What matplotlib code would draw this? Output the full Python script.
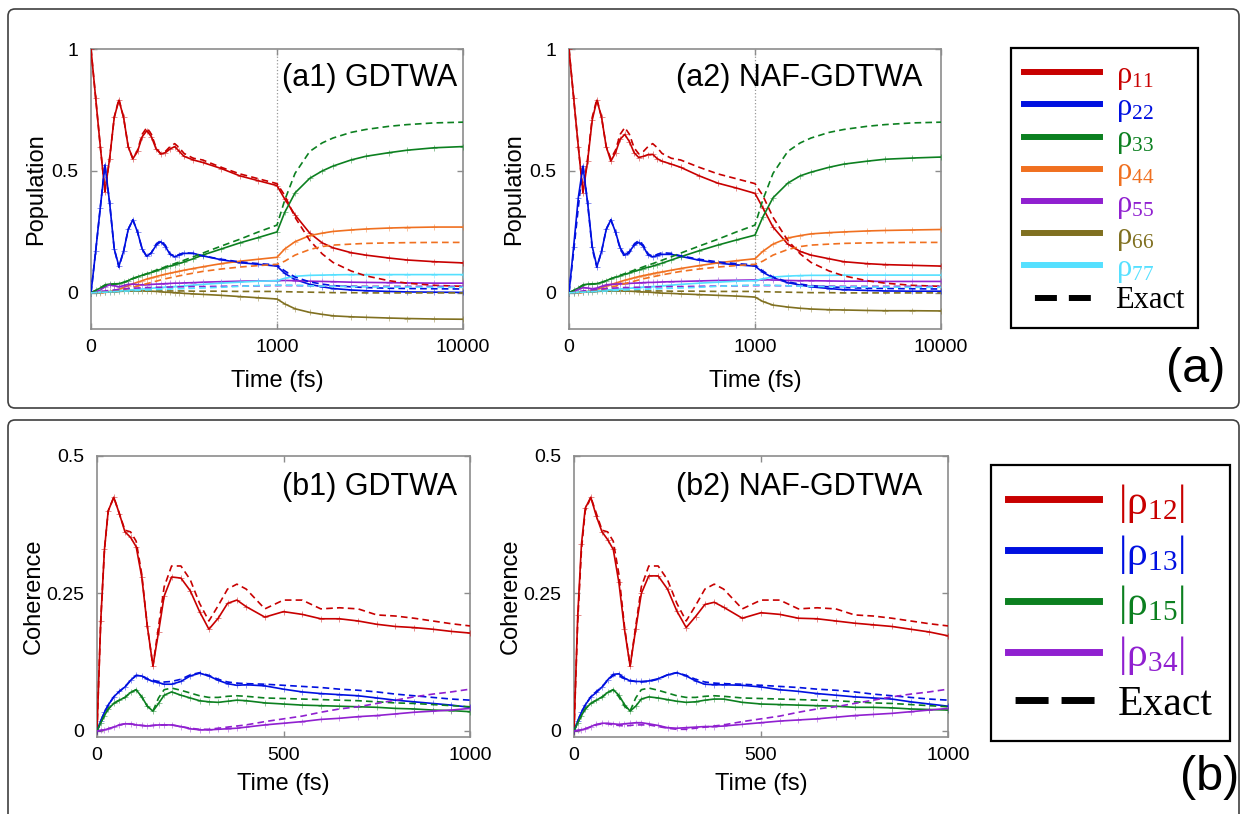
import numpy as np
import matplotlib
matplotlib.use("Agg")
import matplotlib.pyplot as plt
from matplotlib.lines import Line2D
from matplotlib.patches import FancyBboxPatch
from matplotlib.transforms import IdentityTransform

plt.rcParams['font.family'] = ['Liberation Sans', 'DejaVu Sans']

# ---------------------------------------------------------------- data
# populations: time grid (fs), linear up to 1000 fs, log-spaced afterwards
T_POP = [0, 25, 50, 75, 100, 125, 150, 175, 200, 225, 250, 275, 300, 325, 350,
         375, 400, 425, 450, 475, 500, 550, 600, 700, 800, 900, 1000, 1100, 1250,
         1500, 1750, 2000, 2500, 3000, 4000, 5000, 7000, 10000]

POP_GDTWA = {
    '11': [1.0, 0.80, 0.60, 0.415, 0.55, 0.72, 0.79, 0.72, 0.60, 0.55, 0.58, 0.64, 0.665, 0.64, 0.59, 0.57, 0.575, 0.59, 0.60, 0.58, 0.56, 0.545, 0.535, 0.51, 0.48, 0.46, 0.44, 0.385, 0.32, 0.245, 0.205, 0.185, 0.165, 0.155, 0.143, 0.135, 0.128, 0.123],
    '22': [0.0, 0.17, 0.35, 0.525, 0.37, 0.18, 0.11, 0.17, 0.26, 0.30, 0.25, 0.18, 0.15, 0.165, 0.195, 0.21, 0.19, 0.158, 0.148, 0.155, 0.162, 0.162, 0.152, 0.136, 0.124, 0.117, 0.11, 0.08, 0.055, 0.035, 0.025, 0.018, 0.012, 0.009, 0.006, 0.004, 0.003, 0.002],
    '33': [0.0, 0.01, 0.02, 0.033, 0.036, 0.037, 0.038, 0.043, 0.05, 0.06, 0.066, 0.072, 0.078, 0.084, 0.09, 0.097, 0.104, 0.11, 0.115, 0.121, 0.127, 0.14, 0.155, 0.18, 0.205, 0.227, 0.25, 0.33, 0.41, 0.47, 0.5, 0.52, 0.545, 0.56, 0.575, 0.585, 0.595, 0.60],
    '44': [0.0, 0.0, 0.001, 0.003, 0.006, 0.01, 0.015, 0.022, 0.03, 0.037, 0.044, 0.05, 0.057, 0.062, 0.067, 0.072, 0.077, 0.081, 0.085, 0.089, 0.093, 0.1, 0.107, 0.12, 0.13, 0.138, 0.146, 0.18, 0.21, 0.235, 0.245, 0.252, 0.258, 0.262, 0.266, 0.268, 0.27, 0.27],
    '55': [0.0, 0.004, 0.012, 0.025, 0.033, 0.03, 0.025, 0.03, 0.035, 0.036, 0.034, 0.033, 0.034, 0.035, 0.036, 0.037, 0.038, 0.039, 0.04, 0.04, 0.041, 0.042, 0.044, 0.046, 0.048, 0.049, 0.05, 0.051, 0.05, 0.048, 0.047, 0.046, 0.044, 0.043, 0.042, 0.041, 0.04, 0.04],
    '66': [0.0, 0.001, 0.002, 0.003, 0.004, 0.005, 0.006, 0.007, 0.008, 0.008, 0.008, 0.008, 0.008, 0.007, 0.006, 0.005, 0.003, 0.002, 0.001, 0.0, -0.002, -0.004, -0.006, -0.01, -0.015, -0.02, -0.025, -0.045, -0.065, -0.08, -0.088, -0.094, -0.098, -0.1, -0.103, -0.105, -0.107, -0.108],
    '77': [0.0, 0.001, 0.003, 0.004, 0.005, 0.007, 0.008, 0.01, 0.012, 0.013, 0.015, 0.016, 0.018, 0.019, 0.021, 0.022, 0.024, 0.025, 0.026, 0.027, 0.029, 0.032, 0.035, 0.04, 0.044, 0.048, 0.05, 0.06, 0.068, 0.072, 0.073, 0.074, 0.075, 0.075, 0.075, 0.075, 0.075, 0.075],
}

POP_NAF = {
    '11': [1.0, 0.80, 0.60, 0.41, 0.54, 0.71, 0.79, 0.72, 0.60, 0.54, 0.575, 0.63, 0.65, 0.62, 0.575, 0.555, 0.56, 0.567, 0.568, 0.55, 0.54, 0.528, 0.515, 0.48, 0.45, 0.43, 0.408, 0.35, 0.27, 0.2, 0.17, 0.155, 0.14, 0.128, 0.12, 0.116, 0.113, 0.11],
    '22': [0.0, 0.19, 0.39, 0.52, 0.37, 0.19, 0.108, 0.17, 0.26, 0.30, 0.25, 0.185, 0.155, 0.17, 0.195, 0.207, 0.19, 0.155, 0.148, 0.153, 0.158, 0.158, 0.15, 0.134, 0.122, 0.115, 0.11, 0.085, 0.062, 0.042, 0.032, 0.025, 0.018, 0.013, 0.01, 0.008, 0.007, 0.007],
    '33': [0.0, 0.01, 0.02, 0.033, 0.036, 0.037, 0.038, 0.043, 0.05, 0.058, 0.064, 0.07, 0.076, 0.082, 0.088, 0.094, 0.1, 0.105, 0.11, 0.116, 0.122, 0.135, 0.148, 0.173, 0.196, 0.217, 0.237, 0.31, 0.39, 0.45, 0.48, 0.495, 0.515, 0.528, 0.54, 0.548, 0.553, 0.557],
    '44': [0.0, 0.0, 0.001, 0.003, 0.006, 0.01, 0.015, 0.021, 0.028, 0.034, 0.04, 0.046, 0.052, 0.057, 0.062, 0.067, 0.071, 0.075, 0.079, 0.083, 0.086, 0.093, 0.1, 0.112, 0.123, 0.132, 0.14, 0.17, 0.2, 0.225, 0.235, 0.242, 0.247, 0.25, 0.254, 0.256, 0.258, 0.26],
    '55': [0.0, 0.005, 0.014, 0.022, 0.02, 0.017, 0.02, 0.027, 0.033, 0.035, 0.036, 0.037, 0.038, 0.039, 0.04, 0.041, 0.042, 0.043, 0.043, 0.044, 0.045, 0.046, 0.047, 0.049, 0.051, 0.052, 0.053, 0.054, 0.053, 0.051, 0.05, 0.05, 0.049, 0.048, 0.048, 0.047, 0.047, 0.047],
    '66': [0.0, 0.001, 0.002, 0.003, 0.004, 0.005, 0.006, 0.007, 0.008, 0.008, 0.008, 0.008, 0.008, 0.007, 0.006, 0.005, 0.004, 0.003, 0.002, 0.001, -0.001, -0.002, -0.004, -0.007, -0.01, -0.013, -0.017, -0.035, -0.05, -0.058, -0.063, -0.066, -0.069, -0.07, -0.072, -0.073, -0.073, -0.074],
    '77': [0.0, 0.001, 0.003, 0.004, 0.005, 0.007, 0.008, 0.01, 0.012, 0.013, 0.015, 0.016, 0.018, 0.019, 0.021, 0.022, 0.024, 0.025, 0.026, 0.027, 0.029, 0.032, 0.035, 0.04, 0.044, 0.048, 0.05, 0.058, 0.065, 0.069, 0.071, 0.072, 0.072, 0.073, 0.073, 0.073, 0.073, 0.073],
}

POP_EXACT = {
    '11': [1.0, 0.80, 0.60, 0.415, 0.55, 0.72, 0.795, 0.72, 0.60, 0.55, 0.585, 0.65, 0.678, 0.65, 0.595, 0.57, 0.58, 0.60, 0.612, 0.595, 0.572, 0.552, 0.545, 0.515, 0.488, 0.468, 0.448, 0.40, 0.31, 0.215, 0.16, 0.125, 0.09, 0.07, 0.05, 0.04, 0.031, 0.027],
    '22': [0.0, 0.17, 0.35, 0.525, 0.37, 0.18, 0.105, 0.17, 0.26, 0.30, 0.25, 0.18, 0.148, 0.165, 0.2, 0.215, 0.195, 0.16, 0.15, 0.158, 0.165, 0.162, 0.152, 0.138, 0.127, 0.12, 0.115, 0.09, 0.065, 0.045, 0.036, 0.03, 0.025, 0.022, 0.019, 0.018, 0.017, 0.016],
    '33': [0.0, 0.01, 0.02, 0.03, 0.034, 0.036, 0.038, 0.043, 0.05, 0.058, 0.065, 0.072, 0.079, 0.086, 0.093, 0.1, 0.107, 0.114, 0.12, 0.127, 0.134, 0.148, 0.163, 0.192, 0.22, 0.25, 0.278, 0.38, 0.49, 0.58, 0.615, 0.635, 0.658, 0.67, 0.683, 0.69, 0.697, 0.70],
    '44': [0.0, 0.0, 0.001, 0.002, 0.004, 0.007, 0.01, 0.014, 0.018, 0.023, 0.028, 0.033, 0.038, 0.043, 0.048, 0.053, 0.058, 0.062, 0.066, 0.07, 0.074, 0.081, 0.088, 0.098, 0.106, 0.112, 0.117, 0.13, 0.155, 0.178, 0.19, 0.196, 0.2, 0.203, 0.205, 0.206, 0.207, 0.207],
    '55': [0.0, 0.002, 0.005, 0.008, 0.01, 0.012, 0.014, 0.016, 0.018, 0.019, 0.02, 0.021, 0.022, 0.022, 0.023, 0.023, 0.024, 0.024, 0.025, 0.025, 0.025, 0.026, 0.026, 0.027, 0.028, 0.029, 0.03, 0.03, 0.03, 0.029, 0.029, 0.028, 0.028, 0.027, 0.027, 0.027, 0.027, 0.027],
    '66': [0.0, 0.001, 0.002, 0.003, 0.004, 0.005, 0.006, 0.007, 0.008, 0.008, 0.008, 0.008, 0.008, 0.008, 0.008, 0.008, 0.008, 0.008, 0.008, 0.008, 0.008, 0.007, 0.007, 0.007, 0.006, 0.006, 0.006, 0.005, 0.004, 0.003, 0.002, 0.001, 0.001, 0.0, 0.0, 0.0, 0.0, 0.0],
    '77': [0.0, 0.001, 0.002, 0.003, 0.004, 0.005, 0.006, 0.007, 0.008, 0.009, 0.01, 0.011, 0.012, 0.013, 0.014, 0.015, 0.015, 0.016, 0.017, 0.017, 0.018, 0.019, 0.02, 0.023, 0.027, 0.03, 0.032, 0.032, 0.031, 0.029, 0.028, 0.027, 0.026, 0.025, 0.024, 0.024, 0.023, 0.023],
}

# coherences: time grid (fs)
T_COH = [0, 10, 20, 30, 45, 60, 75, 90, 105, 120, 135, 150, 165, 180, 200, 225,
         250, 275, 300, 325, 350, 375, 400, 450, 500, 550, 600, 650, 700, 750,
         800, 850, 900, 950, 1000]

COH_GDTWA = {
    '12': [0.0, 0.20, 0.33, 0.40, 0.425, 0.395, 0.362, 0.352, 0.335, 0.28, 0.19, 0.118, 0.18, 0.245, 0.28, 0.278, 0.255, 0.217, 0.185, 0.205, 0.232, 0.238, 0.226, 0.207, 0.217, 0.212, 0.204, 0.204, 0.2, 0.194, 0.19, 0.188, 0.185, 0.181, 0.178],
    '13': [0.0, 0.018, 0.034, 0.047, 0.062, 0.072, 0.08, 0.092, 0.101, 0.1, 0.094, 0.09, 0.088, 0.085, 0.085, 0.09, 0.1, 0.105, 0.1, 0.092, 0.086, 0.083, 0.084, 0.082, 0.076, 0.071, 0.068, 0.066, 0.064, 0.06, 0.056, 0.053, 0.05, 0.047, 0.043],
    '15': [0.0, 0.015, 0.028, 0.04, 0.05, 0.056, 0.061, 0.07, 0.075, 0.062, 0.045, 0.036, 0.05, 0.065, 0.071, 0.065, 0.06, 0.055, 0.053, 0.052, 0.054, 0.056, 0.055, 0.051, 0.049, 0.047, 0.046, 0.045, 0.044, 0.043, 0.041, 0.04, 0.038, 0.037, 0.035],
    '34': [0.0, 0.001, 0.002, 0.004, 0.007, 0.011, 0.013, 0.013, 0.011, 0.01, 0.009, 0.01, 0.011, 0.011, 0.011, 0.008, 0.004, 0.002, 0.002, 0.003, 0.004, 0.005, 0.007, 0.011, 0.014, 0.017, 0.021, 0.023, 0.026, 0.028, 0.031, 0.034, 0.036, 0.038, 0.041],
}

COH_NAF = {
    '12': [0.0, 0.21, 0.34, 0.405, 0.425, 0.39, 0.362, 0.348, 0.33, 0.27, 0.185, 0.118, 0.185, 0.25, 0.282, 0.282, 0.258, 0.218, 0.188, 0.208, 0.23, 0.234, 0.225, 0.205, 0.215, 0.212, 0.205, 0.204, 0.2, 0.196, 0.193, 0.19, 0.185, 0.18, 0.173],
    '13': [0.0, 0.018, 0.034, 0.047, 0.062, 0.07, 0.08, 0.093, 0.103, 0.104, 0.096, 0.091, 0.09, 0.09, 0.091, 0.095, 0.102, 0.106, 0.1, 0.091, 0.085, 0.084, 0.084, 0.083, 0.08, 0.075, 0.072, 0.068, 0.065, 0.062, 0.06, 0.058, 0.053, 0.049, 0.045],
    '15': [0.0, 0.015, 0.028, 0.04, 0.05, 0.056, 0.062, 0.07, 0.075, 0.065, 0.048, 0.036, 0.045, 0.058, 0.062, 0.06, 0.057, 0.054, 0.052, 0.053, 0.056, 0.058, 0.058, 0.052, 0.049, 0.048, 0.047, 0.046, 0.045, 0.043, 0.043, 0.042, 0.04, 0.039, 0.038],
    '34': [0.0, 0.001, 0.002, 0.004, 0.008, 0.012, 0.014, 0.014, 0.013, 0.012, 0.013, 0.014, 0.015, 0.015, 0.013, 0.01, 0.006, 0.005, 0.006, 0.007, 0.008, 0.008, 0.009, 0.012, 0.015, 0.018, 0.02, 0.022, 0.025, 0.028, 0.03, 0.032, 0.035, 0.038, 0.041],
}

COH_EXACT = {
    '12': [0.0, 0.20, 0.33, 0.40, 0.425, 0.395, 0.365, 0.362, 0.345, 0.285, 0.19, 0.118, 0.19, 0.262, 0.3, 0.3, 0.275, 0.232, 0.2, 0.228, 0.258, 0.267, 0.258, 0.222, 0.238, 0.238, 0.222, 0.224, 0.222, 0.211, 0.209, 0.205, 0.2, 0.195, 0.191],
    '13': [0.0, 0.018, 0.034, 0.047, 0.062, 0.072, 0.08, 0.092, 0.101, 0.1, 0.095, 0.092, 0.09, 0.089, 0.09, 0.094, 0.102, 0.106, 0.101, 0.094, 0.089, 0.087, 0.086, 0.085, 0.083, 0.081, 0.079, 0.076, 0.074, 0.071, 0.067, 0.064, 0.061, 0.058, 0.056],
    '15': [0.0, 0.015, 0.028, 0.04, 0.05, 0.056, 0.061, 0.07, 0.075, 0.062, 0.045, 0.036, 0.06, 0.075, 0.078, 0.074, 0.069, 0.064, 0.061, 0.061, 0.063, 0.064, 0.063, 0.06, 0.059, 0.058, 0.057, 0.056, 0.055, 0.053, 0.051, 0.05, 0.048, 0.046, 0.044],
    '34': [0.0, 0.001, 0.002, 0.004, 0.007, 0.011, 0.013, 0.013, 0.011, 0.01, 0.009, 0.01, 0.011, 0.011, 0.011, 0.008, 0.005, 0.003, 0.003, 0.005, 0.007, 0.009, 0.011, 0.017, 0.022, 0.027, 0.034, 0.04, 0.044, 0.05, 0.056, 0.062, 0.067, 0.071, 0.076],
}

POP_KEYS = ['11', '22', '33', '44', '55', '66', '77']
POP_COLORS = ['#c80000', '#0010e0', '#0c8020', '#f07020', '#9020d0', '#807020', '#55e0ff']
COH_KEYS = ['12', '13', '15', '34']
COH_COLORS = ['#c80000', '#0010e0', '#0c8020', '#9020d0']

POP_XTICKS = [0, 1000, 10000]
POP_YTICKS = [0, 0.5, 1]
POP_YTICKLABELS = ['0', '0.5', '1']
COH_XTICKS = [0, 500, 1000]
COH_YTICKS = [0, 0.25, 0.5]
COH_YTICKLABELS = ['0', '0.25', '0.5']

# ---------------------------------------------------------------- figure
W, H = 1244, 814
fig = plt.figure(figsize=(W / 100, H / 100), dpi=100)


def axes_px(x0, y0, x1, y1):
    """Axes from a pixel box measured from the top-left corner."""
    return fig.add_axes([x0 / W, 1 - y1 / H, (x1 - x0) / W, (y1 - y0) / H])


def split_fwd(x):
    x = np.asarray(x, dtype=float)
    return np.where(x <= 1000, x / 1000.0,
                    1.0 + np.log10(np.maximum(x, 1000.0) / 1000.0))


def split_inv(u):
    u = np.asarray(u, dtype=float)
    return np.where(u <= 1, u * 1000.0,
                    1000.0 * 10 ** (np.clip(u, 1.0, 20.0) - 1.0))


GREY = '#8c8c8c'


def style(ax):
    for s in ax.spines.values():
        s.set_color(GREY)
        s.set_linewidth(1.2)
    ax.tick_params(direction='in', length=4, width=1.0, color=GREY,
                   top=True, right=True, labelsize=14, labelcolor='black')
    ax.tick_params(axis='x', pad=7)
    ax.tick_params(axis='y', pad=9)


def draw_series(ax, t, approx, exact, keys, colors):
    for k, c in zip(keys, colors):
        ax.plot(t, approx[k], color=c, lw=1.2, zorder=3)
        ax.plot(t, approx[k], ls='none', marker='+', ms=5, mew=0.7,
                color=c, alpha=0.45, zorder=3)
    for k, c in zip(keys, colors):
        ax.plot(t, exact[k], color=c, lw=1.2, ls=(0, (4, 2.5)), zorder=4)


def pop_panel(box, approx, title, title_x):
    ax = axes_px(*box)
    ax.set_xscale('function', functions=(split_fwd, split_inv))
    ax.set_xlim(0, 10000)
    ax.set_ylim(-0.148, 1.0)
    ax.axvline(1000, color='#999999', lw=0.9, ls=':', zorder=1)
    draw_series(ax, T_POP, approx, POP_EXACT, POP_KEYS, POP_COLORS)
    ax.set_xticks(POP_XTICKS)
    ax.set_xticklabels([str(v) for v in POP_XTICKS])
    ax.xaxis.set_minor_locator(matplotlib.ticker.NullLocator())
    ax.set_yticks(POP_YTICKS)
    ax.set_yticklabels(POP_YTICKLABELS)
    ax.set_xlabel('Time (fs)', fontsize=17, labelpad=10)
    ax.set_ylabel('Population', fontsize=17, labelpad=3)
    ax.text(title_x, 0.895, title, transform=ax.transAxes, fontsize=22,
            ha='right', va='center')
    style(ax)
    return ax


def coh_panel(box, approx, title, title_x):
    ax = axes_px(*box)
    ax.set_xlim(0, 1000)
    ax.set_ylim(-0.011, 0.5)
    draw_series(ax, T_COH, approx, COH_EXACT, COH_KEYS, COH_COLORS)
    ax.set_xticks(COH_XTICKS)
    ax.set_xticklabels([str(v) for v in COH_XTICKS])
    ax.set_yticks(COH_YTICKS)
    ax.set_yticklabels(COH_YTICKLABELS)
    ax.set_xlabel('Time (fs)', fontsize=17, labelpad=7)
    ax.set_ylabel('Coherence', fontsize=17, labelpad=1)
    ax.text(title_x, 0.89, title, transform=ax.transAxes, fontsize=22,
            ha='right', va='center')
    style(ax)
    return ax


pop_panel((91, 49, 463, 329), POP_GDTWA, '(a1) GDTWA', 0.984)
pop_panel((569, 49, 941, 329), POP_NAF, '(a2) NAF-GDTWA', 0.95)
coh_panel((97, 456, 470, 737), COH_GDTWA, '(b1) GDTWA', 0.965)
coh_panel((574, 456, 948, 737), COH_NAF, '(b2) NAF-GDTWA', 0.93)

# ---------------------------------------------------------------- legends
serif = 'Liberation Serif'
pop_handles = [Line2D([], [], color=c, lw=4.3) for c in POP_COLORS]
# two centred dashes for the "Exact" key
pop_handles.append(Line2D([], [], color='black', lw=4.3,
                          ls=(3.85, (3.68, 2.0))))
pop_labels = ['$\\mathregular{\u03c1_{%s}}$' % k for k in POP_KEYS] + ['Exact']
leg_a = fig.legend(pop_handles, pop_labels, loc='upper left',
                   bbox_to_anchor=(1011 / W, 1 - 48 / H), borderaxespad=0,
                   fancybox=False, framealpha=1, edgecolor='black',
                   prop={'family': serif, 'size': 22},
                   handlelength=2.5, handletextpad=0.5, labelspacing=0.04,
                   borderpad=0.42, labelcolor=POP_COLORS + ['black'])
leg_a.get_frame().set_linewidth(1.6)

coh_handles = [Line2D([], [], color=c, lw=5.0) for c in COH_COLORS]
coh_handles.append(Line2D([], [], color='black', lw=5.0,
                          ls=(5.6, (4.75, 1.87))))
coh_labels = ['$\\mathregular{|\u03c1_{%s}|}$' % k for k in COH_KEYS] + ['Exact']
leg_b = fig.legend(coh_handles, coh_labels, loc='upper left',
                   bbox_to_anchor=(991 / W, 1 - 465 / H), borderaxespad=0,
                   fancybox=False, framealpha=1, edgecolor='black',
                   prop={'family': serif, 'size': 30},
                   handlelength=2.2, handletextpad=0.45, labelspacing=0.19,
                   borderpad=0.4, labelcolor=COH_COLORS + ['black'])
leg_b.get_frame().set_linewidth(1.6)

# ---------------------------------------------------------------- panel frames
for (x0, y0, x1, y1) in [(8, 9, 1239, 408), (8, 420, 1239, 840)]:
    frame = FancyBboxPatch((x0, H - y1), x1 - x0, y1 - y0,
                           boxstyle='round,pad=0,rounding_size=7',
                           transform=IdentityTransform(), fill=False,
                           edgecolor='#404040', linewidth=1.2, zorder=0)
    fig.add_artist(frame)

fig.text(1196 / W, 1 - 369 / H, '(a)', fontsize=35, ha='center', va='center')
fig.text(1210 / W, 1 - 777 / H, '(b)', fontsize=35, ha='center', va='center')

fig.savefig('out.png', dpi=100)
